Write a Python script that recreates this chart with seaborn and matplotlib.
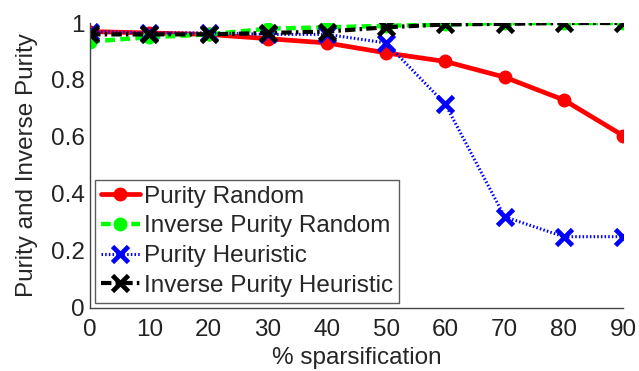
import matplotlib
matplotlib.use('Agg')
import matplotlib.pyplot as plt
import seaborn as sns
import pandas as pd

sparsification = [0, 10, 20, 30, 40, 50, 60, 70, 80, 90]
purity_random = [0.97, 0.965, 0.96, 0.945, 0.93, 0.895, 0.865, 0.81, 0.73, 0.605]
inv_purity_random = [0.935, 0.95, 0.96, 0.98, 0.985, 0.99, 0.995, 1.0, 1.0, 1.0]
purity_heuristic = [0.97, 0.965, 0.965, 0.96, 0.96, 0.93, 0.715, 0.32, 0.25, 0.25]
inv_purity_heuristic = [0.96, 0.96, 0.96, 0.965, 0.97, 0.985, 0.995, 0.997, 1.0, 1.0]

sns.set_style('white')
plt.rcParams['font.family'] = ['Liberation Sans', 'DejaVu Sans']
plt.rcParams['xtick.direction'] = 'in'
plt.rcParams['ytick.direction'] = 'in'

fig = plt.figure(figsize=(6.39, 3.71), dpi=100)
ax = fig.add_axes([0.141, 0.17, 0.834, 0.768])

# label, values, colour, dash pattern, marker, marker size, line width
series = [
    ('Purity Random', purity_random, '#ff0000', '-', 'o', 9, 3.4),
    ('Inverse Purity Random', inv_purity_random, '#00ff00', (0, (2.2, 1.2)), 'o', 9, 3.2),
    ('Purity Heuristic', purity_heuristic, '#0000ff', (0, (0.5, 0.7)), 'x', 11, 2.2),
    ('Inverse Purity Heuristic', inv_purity_heuristic, '#000000', (0, (2.5, 1.0, 0.6, 1.0)), 'x', 11, 3),
]

for label, vals, color, ls, mk, ms, lw in series:
    df = pd.DataFrame({'x': sparsification, 'y': vals})
    sns.lineplot(data=df, x='x', y='y', ax=ax, color=color, linestyle=ls,
                 marker=mk, markersize=ms, linewidth=lw, label=label,
                 markeredgecolor=color, markeredgewidth=3.4 if mk == 'x' else 1)

ax.set_xlim(0, 90)
ax.set_ylim(0, 1)
ax.set_xticks(sparsification)
ax.set_yticks([0, 0.2, 0.4, 0.6, 0.8, 1])
ax.set_yticklabels(['0', '0.2', '0.4', '0.6', '0.8', '1'])
ax.tick_params(labelsize=17.5, length=4, width=1, colors='#222222', pad=4)
ax.tick_params(axis='x', pad=8)
ax.set_xlabel('% sparsification', fontsize=17.5, labelpad=4)
ax.set_ylabel('Purity and Inverse Purity', fontsize=17.5, labelpad=9)
for s in ax.spines.values():
    s.set_color('#444444')
    s.set_linewidth(1)
ax.spines['top'].set_visible(False)
ax.spines['right'].set_visible(False)

leg = ax.legend(loc='lower left', fontsize=17.5, frameon=True, fancybox=False,
                handlelength=1.6, handletextpad=0.15, borderpad=0.25,
                labelspacing=0.32, borderaxespad=0.2)
leg.get_frame().set_edgecolor('#333333')
leg.get_frame().set_linewidth(1)

fig.savefig('out.png', dpi=100)
